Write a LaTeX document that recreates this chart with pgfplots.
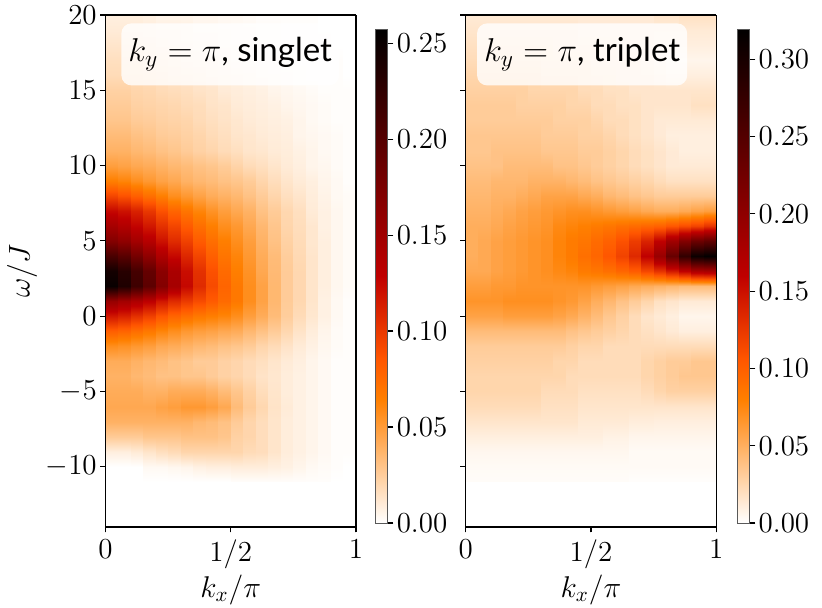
\RequirePackage{fix-cm}
\documentclass[border=0pt]{standalone}
\usepackage{fontspec}
\usepackage{pgfplots}
\usepackage{pgfplotstable}
\pgfplotsset{compat=1.18}
\newfontfamily\titlefont{Lato}

% rows: k_x cell left edge, then values at omega = 20,19,...,-11
\pgfplotstableread[header=false]{
0    0.008 0.010 0.013 0.016 0.018 0.023 0.026 0.029 0.034 0.039 0.049 0.065 0.094 0.125 0.146 0.169 0.208 0.244 0.252 0.156 0.117 0.081 0.057 0.042 0.039 0.042 0.044 0.039 0.026 0.008 0 0
0.05 0.008 0.010 0.013 0.016 0.018 0.023 0.026 0.029 0.034 0.039 0.047 0.062 0.088 0.120 0.138 0.161 0.198 0.231 0.237 0.148 0.112 0.078 0.055 0.042 0.039 0.042 0.044 0.039 0.026 0.008 0 0
0.10 0.008 0.010 0.013 0.016 0.018 0.021 0.023 0.026 0.031 0.036 0.044 0.057 0.081 0.112 0.127 0.148 0.179 0.211 0.216 0.140 0.104 0.073 0.052 0.039 0.036 0.042 0.044 0.039 0.026 0.010 0 0
0.15 0.007 0.009 0.012 0.014 0.017 0.020 0.022 0.025 0.029 0.034 0.042 0.052 0.073 0.101 0.117 0.135 0.161 0.190 0.195 0.130 0.096 0.068 0.049 0.036 0.034 0.039 0.044 0.039 0.029 0.013 0.003 0
0.20 0.005 0.008 0.010 0.013 0.016 0.018 0.021 0.023 0.026 0.031 0.039 0.047 0.065 0.088 0.104 0.120 0.140 0.164 0.169 0.117 0.086 0.062 0.044 0.034 0.031 0.039 0.047 0.039 0.029 0.016 0.003 0
0.25 0.005 0.008 0.009 0.012 0.014 0.017 0.020 0.022 0.025 0.029 0.036 0.044 0.057 0.078 0.094 0.107 0.125 0.143 0.146 0.107 0.078 0.057 0.042 0.031 0.031 0.042 0.049 0.039 0.029 0.018 0.004 0
0.30 0.005 0.007 0.008 0.010 0.013 0.016 0.018 0.021 0.023 0.026 0.034 0.039 0.052 0.070 0.083 0.096 0.109 0.122 0.125 0.099 0.073 0.052 0.039 0.029 0.029 0.042 0.052 0.039 0.031 0.021 0.005 0
0.35 0.004 0.005 0.007 0.009 0.012 0.014 0.017 0.018 0.021 0.023 0.031 0.036 0.047 0.062 0.073 0.083 0.094 0.104 0.107 0.091 0.068 0.049 0.036 0.026 0.029 0.042 0.052 0.036 0.031 0.021 0.007 0
0.40 0.004 0.005 0.007 0.008 0.010 0.013 0.014 0.016 0.018 0.021 0.029 0.034 0.042 0.055 0.065 0.073 0.081 0.088 0.091 0.083 0.065 0.047 0.034 0.026 0.026 0.039 0.049 0.034 0.031 0.021 0.008 0
0.45 0.003 0.004 0.005 0.007 0.009 0.010 0.013 0.014 0.016 0.018 0.026 0.031 0.039 0.049 0.057 0.065 0.070 0.075 0.078 0.075 0.062 0.044 0.031 0.023 0.023 0.034 0.044 0.031 0.029 0.021 0.008 0
0.50 0.003 0.003 0.004 0.005 0.008 0.009 0.010 0.012 0.013 0.016 0.022 0.029 0.036 0.044 0.052 0.057 0.062 0.065 0.068 0.068 0.057 0.042 0.029 0.021 0.021 0.029 0.034 0.026 0.023 0.021 0.009 0.001
0.55 0.002 0.003 0.003 0.004 0.007 0.008 0.009 0.010 0.012 0.013 0.018 0.026 0.031 0.039 0.044 0.049 0.052 0.055 0.057 0.057 0.049 0.036 0.026 0.018 0.018 0.023 0.026 0.021 0.021 0.018 0.009 0.001
0.60 0.001 0.002 0.003 0.003 0.005 0.007 0.008 0.009 0.010 0.012 0.016 0.021 0.026 0.031 0.036 0.039 0.042 0.044 0.047 0.047 0.042 0.031 0.021 0.016 0.014 0.017 0.020 0.017 0.017 0.017 0.009 0.001
0.65 0.001 0.002 0.002 0.003 0.004 0.005 0.007 0.008 0.009 0.010 0.013 0.017 0.021 0.026 0.029 0.031 0.034 0.035 0.036 0.036 0.034 0.026 0.018 0.013 0.012 0.013 0.014 0.013 0.013 0.013 0.008 0.001
0.70 0.001 0.001 0.001 0.002 0.003 0.004 0.005 0.007 0.008 0.009 0.010 0.013 0.016 0.020 0.021 0.023 0.025 0.026 0.026 0.026 0.025 0.020 0.014 0.010 0.009 0.009 0.010 0.009 0.009 0.009 0.007 0.001
0.75 0.001 0.001 0.001 0.001 0.002 0.003 0.004 0.005 0.005 0.007 0.008 0.010 0.013 0.016 0.017 0.018 0.019 0.020 0.020 0.020 0.018 0.014 0.010 0.008 0.007 0.007 0.007 0.007 0.007 0.007 0.005 0.001
0.80 0.001 0.001 0.001 0.001 0.001 0.002 0.003 0.003 0.004 0.005 0.005 0.008 0.009 0.010 0.012 0.012 0.013 0.013 0.013 0.013 0.012 0.009 0.007 0.005 0.005 0.005 0.005 0.005 0.005 0.005 0.003 0.001
0.85 0 0 0.001 0.001 0.001 0.001 0.002 0.002 0.003 0.003 0.004 0.005 0.006 0.007 0.007 0.008 0.008 0.008 0.008 0.007 0.007 0.005 0.004 0.003 0.003 0.003 0.003 0.003 0.003 0.003 0.002 0.001
0.90 0 0 0 0.001 0.001 0.001 0.001 0.001 0.002 0.002 0.002 0.003 0.003 0.004 0.004 0.004 0.004 0.004 0.004 0.003 0.003 0.002 0.002 0.001 0.001 0.001 0.001 0.001 0.001 0.001 0.001 0
0.95 0 0 0 0 0 0.001 0.001 0.001 0.001 0.001 0.001 0.001 0.002 0.002 0.002 0.002 0.002 0.002 0.002 0.001 0.001 0.001 0.001 0.001 0.001 0.001 0.001 0.001 0.001 0.001 0 0
}\tabS

\pgfplotstableread[header=false]{
0    0.013 0.016 0.019 0.022 0.026 0.029 0.032 0.032 0.035 0.035 0.038 0.042 0.045 0.048 0.051 0.051 0.051 0.054 0.061 0.067 0.058 0.042 0.032 0.029 0.026 0.026 0.022 0.016 0.010 0.005 0.003 0.002
0.05 0.013 0.016 0.019 0.022 0.026 0.029 0.032 0.032 0.035 0.035 0.038 0.042 0.045 0.048 0.051 0.054 0.054 0.054 0.061 0.067 0.058 0.042 0.032 0.029 0.026 0.026 0.022 0.016 0.010 0.005 0.003 0.002
0.10 0.013 0.016 0.019 0.022 0.026 0.029 0.032 0.032 0.035 0.038 0.038 0.045 0.048 0.051 0.054 0.058 0.058 0.058 0.064 0.067 0.058 0.042 0.032 0.029 0.026 0.026 0.022 0.016 0.010 0.005 0.003 0.002
0.15 0.013 0.016 0.019 0.022 0.026 0.029 0.032 0.032 0.035 0.038 0.042 0.045 0.048 0.054 0.058 0.061 0.061 0.061 0.064 0.070 0.061 0.042 0.032 0.029 0.026 0.026 0.022 0.016 0.010 0.005 0.003 0.002
0.20 0.013 0.016 0.019 0.022 0.026 0.029 0.029 0.032 0.035 0.038 0.042 0.045 0.051 0.058 0.061 0.064 0.064 0.064 0.067 0.070 0.061 0.042 0.032 0.029 0.026 0.026 0.022 0.016 0.010 0.005 0.003 0.002
0.25 0.013 0.016 0.019 0.022 0.026 0.026 0.029 0.032 0.035 0.038 0.042 0.048 0.054 0.061 0.064 0.067 0.067 0.067 0.067 0.070 0.061 0.042 0.032 0.029 0.026 0.026 0.022 0.016 0.010 0.005 0.003 0.002
0.30 0.013 0.016 0.019 0.019 0.022 0.026 0.029 0.032 0.032 0.035 0.042 0.048 0.058 0.064 0.067 0.070 0.070 0.070 0.067 0.070 0.061 0.042 0.032 0.029 0.026 0.022 0.019 0.016 0.010 0.005 0.003 0.002
0.35 0.013 0.016 0.016 0.019 0.022 0.026 0.029 0.029 0.032 0.035 0.038 0.048 0.058 0.067 0.074 0.077 0.077 0.074 0.067 0.067 0.058 0.042 0.032 0.026 0.026 0.022 0.019 0.016 0.010 0.005 0.003 0.002
0.40 0.013 0.016 0.016 0.019 0.022 0.026 0.026 0.029 0.032 0.035 0.038 0.045 0.058 0.070 0.077 0.083 0.083 0.077 0.067 0.064 0.054 0.038 0.029 0.026 0.022 0.022 0.019 0.016 0.010 0.005 0.003 0.002
0.45 0.013 0.013 0.016 0.019 0.022 0.022 0.026 0.029 0.029 0.032 0.035 0.042 0.054 0.070 0.080 0.086 0.090 0.083 0.067 0.058 0.048 0.035 0.026 0.022 0.022 0.019 0.016 0.013 0.010 0.005 0.003 0.002
0.50 0.013 0.013 0.016 0.016 0.019 0.022 0.022 0.026 0.029 0.032 0.032 0.038 0.051 0.067 0.083 0.093 0.096 0.086 0.064 0.051 0.042 0.032 0.026 0.022 0.022 0.019 0.016 0.013 0.010 0.005 0.003 0.002
0.55 0.013 0.013 0.016 0.016 0.019 0.019 0.022 0.022 0.026 0.029 0.029 0.035 0.045 0.064 0.086 0.099 0.106 0.090 0.061 0.045 0.035 0.029 0.022 0.022 0.022 0.019 0.016 0.013 0.008 0.005 0.003 0.002
0.60 0.013 0.013 0.013 0.016 0.016 0.019 0.019 0.022 0.022 0.026 0.026 0.032 0.042 0.061 0.090 0.109 0.118 0.096 0.058 0.038 0.029 0.026 0.022 0.022 0.022 0.019 0.016 0.013 0.008 0.005 0.003 0.002
0.65 0.013 0.013 0.013 0.016 0.016 0.016 0.019 0.019 0.019 0.022 0.022 0.029 0.038 0.058 0.093 0.122 0.134 0.102 0.054 0.032 0.022 0.022 0.022 0.022 0.022 0.019 0.016 0.011 0.006 0.003 0.003 0.001
0.70 0.013 0.013 0.013 0.013 0.016 0.016 0.016 0.016 0.016 0.019 0.019 0.026 0.035 0.054 0.096 0.138 0.160 0.115 0.051 0.026 0.016 0.019 0.022 0.026 0.026 0.022 0.016 0.011 0.006 0.003 0.003 0.001
0.75 0.016 0.013 0.010 0.010 0.013 0.016 0.016 0.013 0.013 0.016 0.016 0.022 0.032 0.051 0.099 0.160 0.192 0.128 0.048 0.019 0.013 0.016 0.022 0.029 0.029 0.026 0.016 0.010 0.006 0.003 0.003 0.001
0.80 0.016 0.013 0.010 0.006 0.010 0.016 0.016 0.013 0.010 0.013 0.013 0.019 0.032 0.051 0.106 0.186 0.234 0.144 0.045 0.016 0.010 0.013 0.022 0.032 0.032 0.029 0.016 0.010 0.006 0.003 0.003 0.001
0.85 0.019 0.013 0.010 0.006 0.010 0.016 0.016 0.013 0.010 0.010 0.013 0.019 0.032 0.054 0.112 0.211 0.278 0.160 0.042 0.013 0.006 0.010 0.022 0.032 0.035 0.029 0.016 0.010 0.006 0.003 0.003 0.001
0.90 0.019 0.013 0.010 0.006 0.010 0.016 0.019 0.013 0.010 0.010 0.013 0.019 0.032 0.058 0.118 0.230 0.310 0.176 0.042 0.013 0.006 0.010 0.022 0.035 0.035 0.029 0.016 0.010 0.006 0.003 0.003 0.001
0.95 0.019 0.013 0.010 0.006 0.010 0.016 0.019 0.013 0.010 0.010 0.013 0.019 0.032 0.061 0.128 0.240 0.317 0.179 0.042 0.013 0.006 0.010 0.022 0.035 0.035 0.029 0.016 0.010 0.006 0.003 0.003 0.001
}\tabT

% build a mesh: each k_x cell is constant across its width, interpolated in omega
\newcommand\buildmesh[2]{%
  \gdef#2{}%
  \foreach \i in {1,...,32}{%
    \pgfmathtruncatemacro\w{21-\i}%
    \foreach \j in {0,...,19}{%
      \pgfplotstablegetelem{\j}{[index]0}\of#1%
      \let\xl\pgfplotsretval
      \pgfplotstablegetelem{\j}{[index]\i}\of#1%
      \let\vv\pgfplotsretval
      \pgfmathsetmacro\xr{\xl+0.05}%
      \xdef#2{#2(\xl,\w,\vv)(\xr,\w,\vv)}%
    }%
  }%
}
\buildmesh{\tabS}{\meshS}
\buildmesh{\tabT}{\meshT}
\def\plotmesh#1{\addplot3[surf,shader=interp,mesh/cols=40,mesh/rows=32] coordinates {#1};}

\tikzset{
  titlebox/.style={anchor=north west, fill=white, fill opacity=0.8, text opacity=1,
    rounded corners=5pt, inner xsep=3.5pt, minimum height=31pt,
    font=\fontsize{16.5}{20}\selectfont},
}
\pgfplotsset{
  colormap={gheat}{rgb(0pt)=(1,1,1) rgb(75pt)=(1,0.5,0) rgb(100pt)=(1,0.3333,0) rgb(150pt)=(0.75,0,0) rgb(300pt)=(0,0,0)},
  hm/.style={
    view={0}{90},
    scale only axis, width=125.25pt, height=256pt,
    xmin=0, xmax=1, ymin=-14, ymax=20,
    enlargelimits=false,
    axis on top,
    xtick={0,0.5,1}, xticklabels={$0$,$1/2$,$1$},
    ytick={-10,-5,0,5,10,15,20},
    ztick=\empty,
    xtick pos=left, ytick pos=left,
    tick align=outside,
    major tick length=2.7pt,
    every tick/.append style={black, line width=0.6pt},
    axis line style={line width=0.65pt},
    tick label style={font=\fontsize{14.5}{17}\selectfont},
    yticklabel style={inner xsep=1.5pt},
    xlabel={$k_x/\pi$},
    every axis x label/.style={at={(axis description cs:0.5,0)}, yshift=-31.5pt, anchor=center, font=\fontsize{15}{18}\selectfont},
    colormap name=gheat,
    colorbar,
    point meta min=0,
  },
  cb/.style 2 args={
    colorbar style={
      scale only axis, width=6.15pt, height=247pt,
      at={(parent axis.north east)}, anchor=north west,
      xshift=#1, yshift=-7pt,
      ytick={#2},
      ytick pos=right, yticklabel pos=right,
      tick align=outside, major tick length=2.7pt,
      every tick/.append style={black, line width=0.6pt},
      axis line style={draw=black!65, line width=0.5pt},
      tick label style={font=\fontsize{14.5}{17}\selectfont},
      yticklabel style={inner xsep=1.5pt, /pgf/number format/.cd, fixed, fixed zerofill, precision=2},
    },
  },
}

\begin{document}
\begin{tikzpicture}
\path[use as bounding box] (-52.75pt,-40.5pt) rectangle (358.25pt,263.5pt);
\begin{axis}[hm,
  point meta max=0.2574,
  cb={1.3pt}{0,0.05,0.1,0.15,0.2,0.25},
  ylabel={$\omega/J$},
  every axis y label/.style={at={(axis description cs:-0.3333,0.5)}, rotate=90, anchor=center, font=\fontsize{15}{18}\selectfont},
]
\expandafter\plotmesh\expandafter{\meshS}
\node[titlebox, xshift=7.75pt, yshift=-4pt] at (axis description cs:0,1) {$k_y=\pi$\titlefont, singlet};
\end{axis}
\begin{axis}[hm, at={(180.1pt,0pt)},
  point meta max=0.3196,
  cb={2.15pt}{0,0.05,0.1,0.15,0.2,0.25,0.3},
  yticklabels={},
]
\expandafter\plotmesh\expandafter{\meshT}
\node[titlebox, xshift=5.5pt, yshift=-4pt] at (axis description cs:0,1) {$k_y=\pi$\titlefont, triplet};
\end{axis}
\end{tikzpicture}
\end{document}
